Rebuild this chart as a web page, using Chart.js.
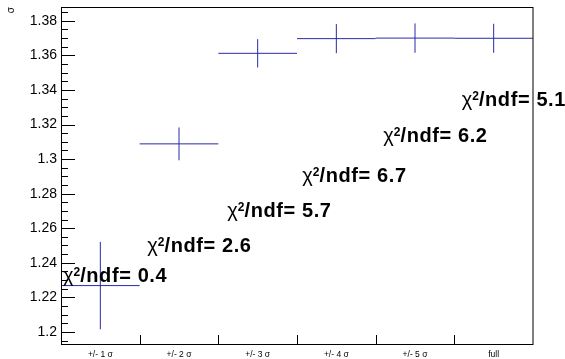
<!DOCTYPE html>
<html lang="en">
<head>
<meta charset="UTF-8"/>
<title>sigma vs fit range</title>
<script src="https://cdn.jsdelivr.net/npm/chart.js@4"></script>
<style>
    html, body { margin: 0; padding: 0; background: #fff; }
    #wrap { width: 565px; height: 359px; }
</style>
</head>
<body>
<div id="wrap"><canvas id="c"></canvas></div>
<script>
    // data
    const categories = ['+/- 1 σ', '+/- 2 σ', '+/- 3 σ', '+/- 4 σ', '+/- 5 σ', 'full'];
    const sigma    = [1.2268, 1.3088, 1.3612, 1.3697, 1.3700, 1.3699];
    const sigmaErr = [0.0253, 0.0095, 0.0082, 0.0084, 0.0085, 0.0084];
    const chi2ndf  = ['0.4', '2.6', '5.7', '6.7', '6.2', '5.1'];
    // where each chi2 label sits (x in bin units, y in sigma units)
    const chi2X = [0.025, 1.097, 2.114, 3.068, 4.097, 5.094];
    const chi2Y = [1.2288, 1.2461, 1.2664, 1.2866, 1.3101, 1.3308];
    const yTicks = [1.2, 1.22, 1.24, 1.26, 1.28, 1.3, 1.32, 1.34, 1.36, 1.38];
    const yRange = [1.193, 1.388];
    const yMinorStep = 0.005;

    const FONT = '"Liberation Sans", Arial, Helvetica, sans-serif';
    const BLUE = '#2a2aa8';

    function drawChi(ctx, x, y, val) {
        ctx.fillStyle = '#000';
        ctx.textAlign = 'left';
        ctx.textBaseline = 'alphabetic';
        ctx.font = '20px ' + FONT;
        ctx.fillText('χ', x, y);
        x += ctx.measureText('χ').width;
        ctx.font = 'bold 12px ' + FONT;
        ctx.fillText('2', x, y - 6);
        x += ctx.measureText('2').width;
        ctx.font = 'bold 20px ' + FONT;
        ctx.letterSpacing = '0.6px';
        ctx.fillText('/ndf= ' + val, x, y);
        ctx.letterSpacing = '0px';
    }

    const rootStyle = {
        id: 'rootStyle',
        afterDatasetsDraw(chart) {
            const {ctx, scales} = chart;
            const bins = scales.bins, y = scales.y;
            const meta = chart.getDatasetMeta(0);
            ctx.save();
            ctx.strokeStyle = BLUE;
            ctx.lineWidth = 1;
            meta.data.forEach((pt, i) => {
                const x0 = bins.getPixelForValue(i);
                const x1 = bins.getPixelForValue(i + 1);
                ctx.beginPath();
                ctx.moveTo(x0, pt.y);
                ctx.lineTo(x1, pt.y);
                ctx.moveTo(pt.x, y.getPixelForValue(sigma[i] + sigmaErr[i]));
                ctx.lineTo(pt.x, y.getPixelForValue(sigma[i] - sigmaErr[i]));
                ctx.stroke();
            });
            ctx.restore();
        },
        afterDraw(chart) {
            const {ctx, chartArea: a, scales} = chart;
            const bins = scales.bins, y = scales.y;
            ctx.save();
            chi2ndf.forEach((v, i) => {
                drawChi(ctx, bins.getPixelForValue(chi2X[i]), y.getPixelForValue(chi2Y[i]), v);
            });

            // axis ticks, drawn inward like ROOT
            ctx.strokeStyle = '#000';
            ctx.lineWidth = 1;
            ctx.beginPath();
            yTicks.forEach(v => {
                const py = Math.round(y.getPixelForValue(v)) + 0.5;
                ctx.moveTo(a.left, py);
                ctx.lineTo(a.left + 14, py);
            });
            for (let v = 1.195; v < yRange[1]; v += yMinorStep) {
                const py = Math.round(y.getPixelForValue(v)) + 0.5;
                ctx.moveTo(a.left, py);
                ctx.lineTo(a.left + 7, py);
            }
            for (let i = 1; i < categories.length; i++) {
                const px = Math.round(bins.getPixelForValue(i)) + 0.5;
                ctx.moveTo(px, a.bottom);
                ctx.lineTo(px, a.bottom - 9);
            }
            ctx.stroke();

            // frame
            ctx.beginPath();
            ctx.moveTo(a.left + 0.5, a.top + 0.5);
            ctx.lineTo(a.right, a.top + 0.5);
            ctx.moveTo(a.left + 0.5, a.top);
            ctx.lineTo(a.left + 0.5, a.bottom + 1);
            ctx.moveTo(a.left, a.bottom + 0.5);
            ctx.lineTo(a.right, a.bottom + 0.5);
            ctx.moveTo(a.right, a.top);
            ctx.lineTo(a.right, a.bottom + 1);
            ctx.stroke();
            ctx.restore();
        }
    };

    new Chart(document.getElementById('c'), {
        type: 'line',
        data: {
            labels: categories,
            datasets: [{
                data: sigma,
                showLine: false,
                pointRadius: 0,
                borderColor: BLUE
            }]
        },
        options: {
            responsive: true,
            maintainAspectRatio: false,
            animation: false,
            layout: { padding: { left: 0, top: 7, right: 32, bottom: 0 } },
            plugins: { legend: { display: false }, tooltip: { enabled: false } },
            scales: {
                x: {
                    type: 'category',
                    offset: true,
                    grid: { display: false, drawTicks: false },
                    border: { display: false },
                    ticks: { color: '#000', font: { family: FONT, size: 8.5 }, padding: 6, maxRotation: 0, autoSkip: false },
                    afterFit: s => { s.height = 15; s.paddingLeft = 0; s.paddingRight = 0; }
                },
                bins: {
                    type: 'linear',
                    axis: 'x',
                    position: 'bottom',
                    display: false,
                    min: 0,
                    max: categories.length
                },
                y: {
                    type: 'linear',
                    min: yRange[0],
                    max: yRange[1],
                    grid: { display: false, drawTicks: false },
                    border: { display: false },
                    afterBuildTicks: s => { s.ticks = yTicks.map(v => ({ value: v })); },
                    ticks: {
                        color: '#000',
                        padding: 4,
                        font: { family: FONT, size: 14 },
                        callback: v => String(Number(v.toFixed(2)))
                    },
                    title: {
                        display: true,
                        text: 'σ',
                        align: 'end',
                        color: '#000',
                        font: { family: FONT, size: 10 },
                        padding: { top: 5, bottom: 0 }
                    },
                    afterFit: s => { s.width = 61; s.paddingTop = 0; s.paddingBottom = 0; }
                }
            }
        },
        plugins: [rootStyle]
    });
</script>
</body>
</html>
